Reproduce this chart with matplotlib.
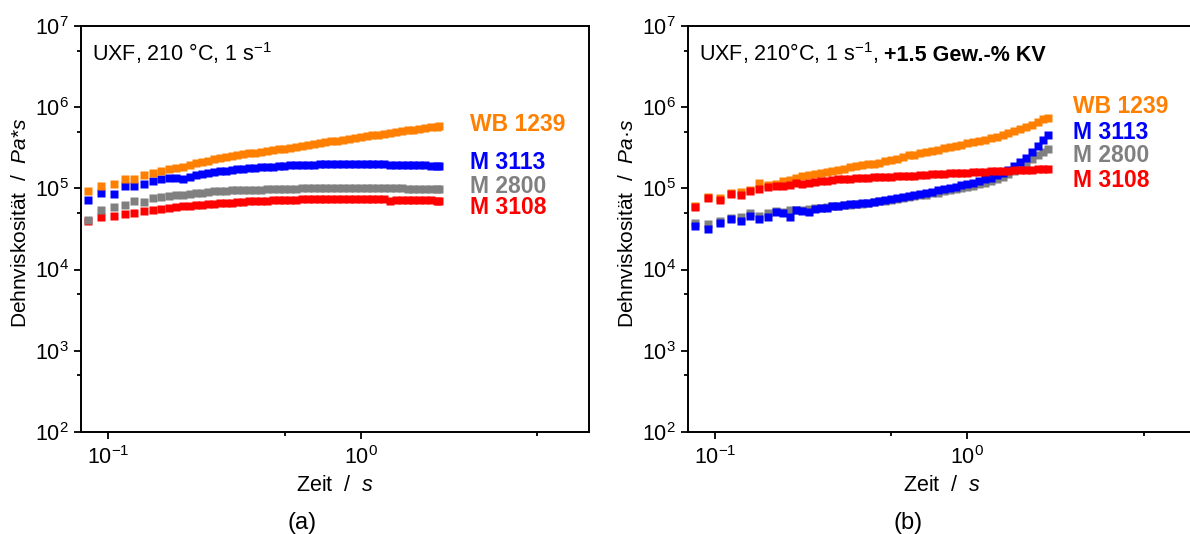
import numpy as np
import matplotlib
matplotlib.use("Agg")
import matplotlib.pyplot as plt
from matplotlib.ticker import LogLocator, NullFormatter

plt.rcParams['font.family'] = ['Liberation Sans', 'DejaVu Sans']
plt.rcParams['mathtext.fontset'] = 'custom'
plt.rcParams['mathtext.rm'] = 'Liberation Sans'
plt.rcParams['mathtext.it'] = 'Liberation Sans:italic'
plt.rcParams['mathtext.bf'] = 'Liberation Sans:bold'

# Zeit / s
zeit_a = [0.083, 0.094, 0.105, 0.116, 0.127, 0.138, 0.150, 0.162, 0.174, 0.186, 0.198,
          0.21, 0.222, 0.235, 0.248, 0.262, 0.277, 0.292, 0.308, 0.325, 0.343, 0.362,
          0.382, 0.403, 0.425, 0.448, 0.473, 0.499, 0.526, 0.555, 0.585, 0.617, 0.651,
          0.687, 0.725, 0.765, 0.807, 0.851, 0.898, 0.947, 1.0, 1.055, 1.113, 1.174,
          1.238, 1.306, 1.378, 1.454, 1.534, 1.618, 1.707, 1.801, 1.90, 2.0, 2.05]
zeit_b = zeit_a[:-1] + [2.08]

# Dehnviskositaet in 1e5 Pa*s, Teilbild (a)
wb1239_a = [0.93, 1.07, 1.15, 1.29, 1.32, 1.48, 1.55, 1.62, 1.72, 1.80, 1.86,
            1.97, 2.05, 2.12, 2.20, 2.30, 2.38, 2.45, 2.52, 2.58, 2.64, 2.70,
            2.76, 2.83, 2.90, 2.96, 3.03, 3.10, 3.18, 3.26, 3.34, 3.42, 3.51,
            3.60, 3.70, 3.80, 3.90, 4.00, 4.10, 4.20, 4.30, 4.40, 4.50, 4.60,
            4.72, 4.84, 4.96, 5.08, 5.20, 5.32, 5.44, 5.56, 5.68, 5.80, 5.85]
m3113_a = [0.73, 0.89, 0.86, 1.06, 1.06, 1.12, 1.22, 1.30, 1.35, 1.35, 1.32,
           1.40, 1.48, 1.52, 1.55, 1.60, 1.63, 1.66, 1.69, 1.72, 1.76, 1.78,
           1.80, 1.83, 1.84, 1.86, 1.88, 1.90, 1.92, 1.93, 1.95, 1.96, 1.97,
           1.98, 1.99, 2.00, 2.02, 2.03, 2.03, 2.02, 2.03, 2.01, 2.00, 1.99,
           1.98, 1.97, 1.96, 1.95, 1.94, 1.93, 1.92, 1.92, 1.91, 1.91, 1.91]
m2800_a = [0.41, 0.54, 0.59, 0.63, 0.71, 0.68, 0.76, 0.78, 0.80, 0.84, 0.83,
           0.86, 0.88, 0.89, 0.91, 0.92, 0.93, 0.94, 0.95, 0.95, 0.96, 0.96,
           0.97, 0.97, 0.98, 0.98, 0.98, 0.99, 0.99, 0.99, 1.00, 1.00, 1.00,
           1.01, 1.01, 1.01, 1.01, 1.01, 1.01, 1.01, 1.01, 1.01, 1.00, 1.00,
           1.00, 1.00, 1.00, 1.00, 0.99, 0.99, 0.99, 0.99, 0.99, 0.99, 0.99]
m3108_a = [0.40, 0.44, 0.46, 0.48, 0.50, 0.52, 0.54, 0.555, 0.57, 0.59, 0.60,
           0.61, 0.62, 0.63, 0.64, 0.65, 0.66, 0.665, 0.67, 0.68, 0.69, 0.695,
           0.70, 0.705, 0.71, 0.72, 0.72, 0.725, 0.73, 0.73, 0.735, 0.74, 0.74,
           0.745, 0.745, 0.75, 0.75, 0.75, 0.75, 0.75, 0.745, 0.745, 0.74, 0.74,
           0.735, 0.70, 0.73, 0.73, 0.725, 0.72, 0.72, 0.715, 0.715, 0.71, 0.71]

# Teilbild (b), +1.5 Gew.-% KV
wb1239_b = [0.60, 0.78, 0.76, 0.88, 0.90, 0.97, 1.16, 1.10, 1.15, 1.22, 1.28,
            1.35, 1.42, 1.46, 1.50, 1.55, 1.60, 1.65, 1.70, 1.76, 1.82, 1.88,
            1.94, 1.98, 2.02, 2.09, 2.16, 2.24, 2.32, 2.46, 2.55, 2.62, 2.70,
            2.80, 2.90, 3.02, 3.12, 3.22, 3.35, 3.48, 3.60, 3.72, 3.86, 4.00,
            4.16, 4.34, 4.55, 4.80, 5.05, 5.35, 5.70, 6.12, 6.60, 7.10, 7.40]
m3113_b = [0.34, 0.32, 0.37, 0.415, 0.40, 0.46, 0.42, 0.44, 0.51, 0.50, 0.45,
           0.54, 0.53, 0.51, 0.56, 0.58, 0.57, 0.60, 0.61, 0.62, 0.64, 0.65,
           0.66, 0.67, 0.69, 0.71, 0.73, 0.74, 0.76, 0.79, 0.81, 0.83, 0.86,
           0.88, 0.91, 0.95, 0.98, 1.01, 1.05, 1.09, 1.12, 1.16, 1.22, 1.29,
           1.36, 1.45, 1.56, 1.70, 1.88, 2.10, 2.40, 2.80, 3.30, 4.00, 4.60]
m2800_b = [0.38, 0.36, 0.40, 0.43, 0.44, 0.50, 0.46, 0.50, 0.52, 0.51, 0.55,
           0.55, 0.54, 0.56, 0.57, 0.58, 0.59, 0.60, 0.61, 0.62, 0.63, 0.64,
           0.65, 0.66, 0.68, 0.70, 0.71, 0.73, 0.75, 0.77, 0.79, 0.80, 0.82,
           0.84, 0.87, 0.89, 0.92, 0.95, 0.98, 1.01, 1.04, 1.08, 1.12, 1.17,
           1.23, 1.31, 1.40, 1.52, 1.66, 1.84, 2.05, 2.30, 2.55, 2.85, 3.05]
m3108_b = [0.59, 0.77, 0.73, 0.845, 0.84, 0.92, 0.99, 1.04, 1.06, 1.06, 1.10,
           1.16, 1.15, 1.16, 1.19, 1.22, 1.24, 1.27, 1.29, 1.30, 1.31, 1.33,
           1.35, 1.36, 1.37, 1.38, 1.39, 1.40, 1.41, 1.42, 1.43, 1.44, 1.46,
           1.47, 1.49, 1.50, 1.52, 1.53, 1.54, 1.56, 1.57, 1.58, 1.60, 1.61,
           1.62, 1.64, 1.65, 1.66, 1.67, 1.68, 1.70, 1.71, 1.72, 1.73, 1.74]

namen = ['WB 1239', 'M 3113', 'M 2800', 'M 3108']
farben = {'WB 1239': '#ff8000', 'M 3113': '#0000ff', 'M 2800': '#808080', 'M 3108': '#ff0000'}

W, H = 1190, 534
fig = plt.figure(figsize=(11.9, 5.34), dpi=100)
ax1 = fig.add_axes([81/W, (H-431.7)/H, 507.7/W, 405.4/H])
ax2 = fig.add_axes([687.7/W, (H-431.7)/H, 507.7/W, 405.4/H])

def panel(ax, zeit, daten, reihenfolge, label_x, label_y, titel, einheit):
    for name in reihenfolge:
        ax.plot(zeit, np.array(daten[name]) * 1e5, 's', ms=6.0, mec='none',
                color=farben[name])
    ax.set_xscale('log')
    ax.set_yscale('log')
    ax.set_xlim(0.078, 8)
    ax.set_ylim(1e2, 1e7)
    for achse in (ax.xaxis, ax.yaxis):
        achse.set_major_locator(LogLocator(base=10, numticks=12))
        achse.set_minor_locator(LogLocator(base=10, subs=[5], numticks=12))
        achse.set_minor_formatter(NullFormatter())
    ax.tick_params(which='major', direction='out', length=5.2, width=1.3,
                   labelsize=15.5, top=False, right=False)
    ax.tick_params(which='minor', direction='out', length=2.8, width=1.3,
                   top=False, right=False)
    ax.tick_params(axis='x', which='major', pad=5)
    ax.tick_params(axis='y', which='major', pad=3.5)
    for s in ax.spines.values():
        s.set_linewidth(1.4)
    ax.set_xlabel('Zeit  /  $\\mathit{s}$', fontsize=15.5)
    ax.xaxis.set_label_coords(0.5, -0.108)
    ax.set_ylabel('Dehnviskosität  /  ' + einheit, fontsize=15)
    ax.yaxis.set_label_coords(-0.1, 0.515)
    for name, y in zip(namen, label_y):
        ax.text(label_x, y, name, transform=ax.transAxes, color=farben[name],
                fontsize=16.5, fontweight='bold', va='center', ha='left')
    return ax.text(0.022, 0.935, titel, transform=ax.transAxes, fontsize=15.5,
                   va='center', ha='left')

daten_a = {'WB 1239': wb1239_a, 'M 3113': m3113_a, 'M 2800': m2800_a, 'M 3108': m3108_a}
daten_b = {'WB 1239': wb1239_b, 'M 3113': m3113_b, 'M 2800': m2800_b, 'M 3108': m3108_b}

panel(ax1, zeit_a, daten_a, ['M 3108', 'M 2800', 'M 3113', 'WB 1239'], 0.766,
      [0.757, 0.663, 0.604, 0.553], 'UXF, 210 °C, 1 s$^{-1}$',
      '$\\mathit{Pa}$*$\\mathit{s}$')
t2 = panel(ax2, zeit_b, daten_b, ['WB 1239', 'M 2800', 'M 3113', 'M 3108'], 0.759,
           [0.803, 0.738, 0.681, 0.619], 'UXF, 210°C, 1 s$^{-1}$,',
           '$\\mathit{Pa}$·$\\mathit{s}$')
ax2.annotate('+1.5 Gew.-% KV', xy=(1, 0), xycoords=t2, xytext=(4, 0),
             textcoords='offset points', fontsize=15.5, fontweight='bold',
             va='bottom', ha='left')

fig.text(302/W, 1 - 523/H, '(a)', fontsize=17, ha='center', va='center')
fig.text(908/W, 1 - 523/H, '(b)', fontsize=17, ha='center', va='center')

fig.savefig('out.png', dpi=100)
